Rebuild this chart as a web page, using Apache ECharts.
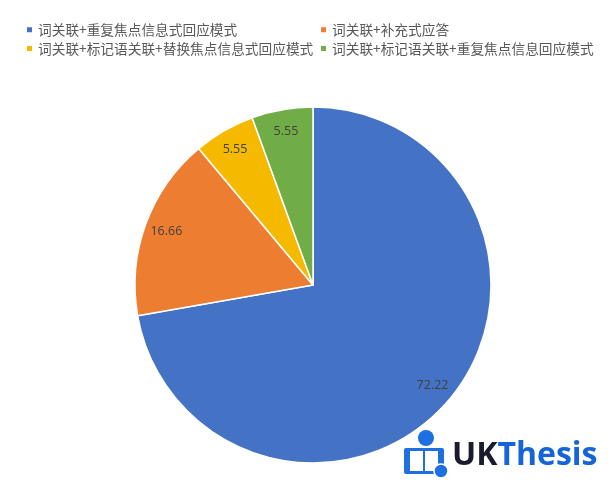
<!DOCTYPE html>
<html><head><meta charset="utf-8">
<script src="https://cdn.jsdelivr.net/npm/echarts@6/dist/echarts.min.js"></script>
<style>html,body{margin:0;padding:0;background:#fff}#c{width:612px;height:482px}</style>
</head><body><div id="c"></div>
<script>
const categories = ['词关联+重复焦点信息式回应模式','词关联+补充式应答','词关联+标记语关联+替换焦点信息式回应模式','词关联+标记语关联+重复焦点信息回应模式'];
const values = [72.22, 16.66, 5.55, 5.55];
const colors = ['#4472C4','#ED7D31','#F5B900','#70AD47'];

const data = categories.map((n,i)=>({name:n, value:values[i], itemStyle:{color:colors[i]}}));
const R = 178, C = [313, 285];
const chart = echarts.init(document.getElementById('c'), null, {renderer:'canvas'});
const legendText = {fontFamily:'Noto Sans CJK SC', fontSize:13.7, color:'#595959'};
chart.setOption({
  animation:false,
  legend:[
    {orient:'vertical', left:25, top:23, itemWidth:7, itemHeight:7, itemGap:5, icon:'rect', data:[categories[0],categories[2]], textStyle:legendText, padding:0},
    {orient:'vertical', left:319, top:23, itemWidth:7, itemHeight:7, itemGap:5, icon:'rect', data:[categories[1],categories[3]], textStyle:legendText, padding:0}
  ],
  series:[
    {type:'pie', center:C, radius:[0,R], startAngle:90, clockwise:true, data:data,
     itemStyle:{borderColor:'#fff', borderWidth:1.5}, label:{show:false}, labelLine:{show:false}, silent:true},
    {type:'pie', center:C, radius:[R*0.72,R], startAngle:90, clockwise:true, data:data.map(d=>({name:d.name,value:d.value})),
     itemStyle:{color:'rgba(0,0,0,0)'}, silent:true, legendHoverLink:false,
     label:{show:true, position:'inside', formatter:p=>p.value.toFixed(2), color:'#404040', fontSize:12.5, fontFamily:'Open Sans'},
     labelLine:{show:false}}
  ],
  graphic:[
    {type:'text', left:452, top:440, style:{text:'{a|UK}{b|Thesis}', rich:{a:{fill:'#1b1b2f', fontSize:32, fontWeight:'bold', fontFamily:'Open Sans'}, b:{fill:'#1565d8', fontSize:32, fontWeight:'bold', fontFamily:'Open Sans'}}}},
    {type:'circle', shape:{cx:426, cy:438, r:8}, style:{fill:'#1e6fe0'}},
    {type:'rect', shape:{x:404, y:448, width:40, height:26, r:2}, style:{fill:'#1e6fe0'}},
    {type:'rect', shape:{x:410, y:451, width:28, height:20}, style:{fill:'#fff'}},
    {type:'rect', shape:{x:423, y:451, width:2, height:20}, style:{fill:'#1e6fe0'}},
    {type:'circle', shape:{cx:441, cy:471, r:7}, style:{fill:'#1e6fe0', stroke:'#fff', lineWidth:1.5}}
  ]
});
</script></body></html>
